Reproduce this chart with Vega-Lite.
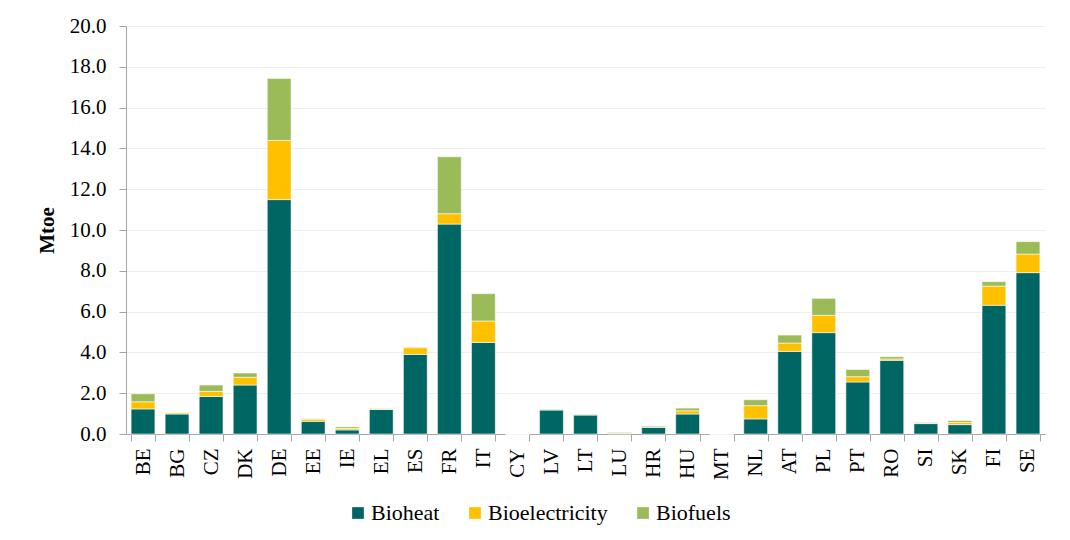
{
  "$schema": "https://vega.github.io/schema/vega-lite/v6.json",
  "width": 919,
  "height": 408,
  "autosize": {"type": "none"},
  "padding": {"left": 126, "top": 26, "right": 25, "bottom": 106},
  "background": "white",
  "config": {
    "view": {"stroke": null},
    "font": "Liberation Serif, Times New Roman, serif",
    "text": {"font": "Liberation Serif, Times New Roman, serif"},
    "axis": {"labelFont": "Liberation Serif, Times New Roman, serif", "titleFont": "Liberation Serif, Times New Roman, serif", "labelColor": "#000", "titleColor": "#000", "domainColor": "#a6a6a6", "tickColor": "#a6a6a6", "gridColor": "#efefef"},
    "legend": {"labelFont": "Liberation Serif, Times New Roman, serif", "titleFont": "Liberation Serif, Times New Roman, serif"}
  },
  "datasets": {
    "types": [
      {"type": "Bioheat", "ord": 1},
      {"type": "Bioelectricity", "ord": 2},
      {"type": "Biofuels", "ord": 3}
    ]
  },
  "data": {
    "values": [
      {"c": "BE", "Bioheat": 1.23, "Bioelectricity": 0.35, "Biofuels": 0.39},
      {"c": "BG", "Bioheat": 0.98, "Bioelectricity": 0.06, "Biofuels": 0.01},
      {"c": "CZ", "Bioheat": 1.84, "Bioelectricity": 0.25, "Biofuels": 0.31},
      {"c": "DK", "Bioheat": 2.40, "Bioelectricity": 0.38, "Biofuels": 0.21},
      {"c": "DE", "Bioheat": 11.49, "Bioelectricity": 2.90, "Biofuels": 3.04},
      {"c": "EE", "Bioheat": 0.62, "Bioelectricity": 0.10, "Biofuels": 0.03},
      {"c": "IE", "Bioheat": 0.20, "Bioelectricity": 0.07, "Biofuels": 0.08},
      {"c": "EL", "Bioheat": 1.20, "Bioelectricity": 0.04, "Biofuels": 0.02},
      {"c": "ES", "Bioheat": 3.90, "Bioelectricity": 0.33, "Biofuels": 0.03},
      {"c": "FR", "Bioheat": 10.29, "Bioelectricity": 0.51, "Biofuels": 2.79},
      {"c": "IT", "Bioheat": 4.49, "Bioelectricity": 1.05, "Biofuels": 1.34},
      {"c": "CY", "Bioheat": 0.0, "Bioelectricity": 0.0, "Biofuels": 0.0},
      {"c": "LV", "Bioheat": 1.18, "Bioelectricity": 0.01, "Biofuels": 0.03},
      {"c": "LT", "Bioheat": 0.93, "Bioelectricity": 0.02, "Biofuels": 0.03},
      {"c": "LU", "Bioheat": 0.03, "Bioelectricity": 0.01, "Biofuels": 0.04},
      {"c": "HR", "Bioheat": 0.33, "Bioelectricity": 0.02, "Biofuels": 0.04},
      {"c": "HU", "Bioheat": 0.98, "Bioelectricity": 0.16, "Biofuels": 0.13},
      {"c": "MT", "Bioheat": 0.0, "Bioelectricity": 0.0, "Biofuels": 0.0},
      {"c": "NL", "Bioheat": 0.74, "Bioelectricity": 0.65, "Biofuels": 0.29},
      {"c": "AT", "Bioheat": 4.05, "Bioelectricity": 0.41, "Biofuels": 0.39},
      {"c": "PL", "Bioheat": 4.97, "Bioelectricity": 0.85, "Biofuels": 0.83},
      {"c": "PT", "Bioheat": 2.55, "Bioelectricity": 0.26, "Biofuels": 0.35},
      {"c": "RO", "Bioheat": 3.61, "Bioelectricity": 0.07, "Biofuels": 0.11},
      {"c": "SI", "Bioheat": 0.51, "Bioelectricity": 0.01, "Biofuels": 0.04},
      {"c": "SK", "Bioheat": 0.46, "Bioelectricity": 0.11, "Biofuels": 0.09},
      {"c": "FI", "Bioheat": 6.31, "Bioelectricity": 0.94, "Biofuels": 0.22},
      {"c": "SE", "Bioheat": 7.91, "Bioelectricity": 0.91, "Biofuels": 0.61}
    ]
  },
  "transform": [
    {"fold": ["Bioheat", "Bioelectricity", "Biofuels"], "as": ["type", "value"]},
    {"lookup": "type", "from": {"data": {"name": "types"}, "key": "type", "fields": ["ord"]}}
  ],
  "mark": {"type": "bar", "stroke": "#ffffff", "strokeWidth": 0.8, "strokeOpacity": 0.7},
  "encoding": {
    "x": {
      "field": "c", "type": "nominal", "sort": null, "title": null,
      "scale": {"paddingInner": 0.3, "paddingOuter": 0.15},
      "axis": {"labelAngle": 270, "labelFontSize": 21, "labelPadding": 7, "tickBand": "extent", "tickSize": 7, "domainColor": "#a6a6a6"}
    },
    "y": {
      "field": "value", "type": "quantitative", "stack": "zero",
      "title": "Mtoe",
      "scale": {"domain": [0, 20], "nice": false},
      "axis": {"values": [0, 2, 4, 6, 8, 10, 12, 14, 16, 18, 20], "format": ".1f", "labelFontSize": 21, "labelPadding": 13, "tickSize": 7, "titleFontSize": 21, "titleFontWeight": "bold", "titlePadding": 12}
    },
    "color": {
      "field": "type", "type": "nominal", "title": null,
      "scale": {"domain": ["Bioheat", "Bioelectricity", "Biofuels"], "range": ["#006663", "#ffc000", "#9bbb59"]},
      "legend": {"orient": "none", "legendX": 221, "legendY": 476, "direction": "horizontal", "symbolType": "square", "symbolSize": 137, "symbolStrokeWidth": 0, "labelFontSize": 22, "labelColor": "#000", "columnPadding": 24, "labelOffset": 2}
    },
    "order": {"field": "ord", "type": "quantitative"}
  }
}
